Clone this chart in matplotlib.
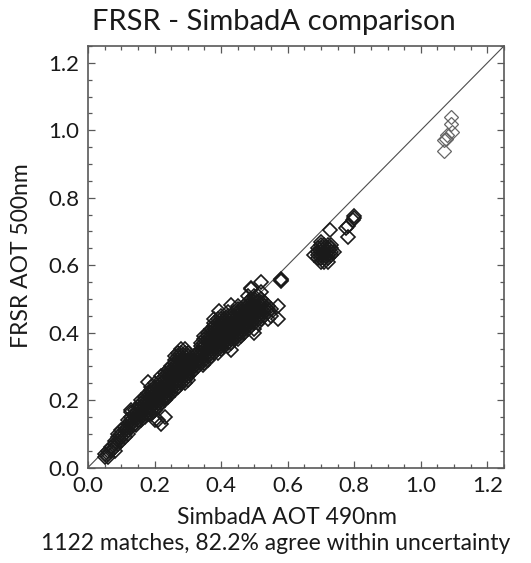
import numpy as np
import matplotlib.pyplot as plt
from matplotlib.ticker import MultipleLocator

plt.rcParams['font.family'] = ['Lato', 'DejaVu Sans']

# SimbadA AOT 490nm (x) vs FRSR AOT 500nm (y)
# main band: one x per column, the y values seen in that column
low_x = [0.05, 0.06, 0.07, 0.08, 0.09, 0.10, 0.11, 0.12, 0.13, 0.14, 0.15, 0.16]
low_y = [[0.03, 0.04],
         [0.03, 0.04, 0.05],
         [0.05, 0.06],
         [0.05, 0.06, 0.07, 0.08],
         [0.07, 0.08, 0.09, 0.10],
         [0.08, 0.09, 0.10, 0.11],
         [0.09, 0.10, 0.11, 0.12],
         [0.10, 0.11, 0.12, 0.13, 0.14],
         [0.12, 0.13, 0.14, 0.15, 0.17],
         [0.13, 0.14, 0.15, 0.16, 0.17],
         [0.14, 0.15, 0.16, 0.17, 0.18],
         [0.14, 0.15, 0.16, 0.17, 0.18, 0.19, 0.20]]

mid_x = [0.17, 0.18, 0.19, 0.20, 0.21, 0.22, 0.23, 0.24, 0.25, 0.26, 0.27, 0.28,
         0.29, 0.30, 0.31, 0.32, 0.33]
mid_y = [[0.15, 0.16, 0.17, 0.18, 0.19, 0.20, 0.21],
         [0.16, 0.17, 0.18, 0.19, 0.20, 0.21, 0.22],
         [0.16, 0.17, 0.18, 0.19, 0.20, 0.21, 0.22, 0.23, 0.24],
         [0.14, 0.17, 0.18, 0.19, 0.20, 0.21, 0.22, 0.23, 0.24, 0.25],
         [0.14, 0.18, 0.19, 0.20, 0.21, 0.22, 0.23, 0.24],
         [0.13, 0.19, 0.20, 0.21, 0.22, 0.23, 0.24, 0.25, 0.26, 0.27],
         [0.15, 0.20, 0.21, 0.22, 0.23, 0.24, 0.25, 0.26, 0.27, 0.28],
         [0.21, 0.22, 0.23, 0.24, 0.25, 0.26, 0.27, 0.28, 0.29],
         [0.22, 0.23, 0.24, 0.25, 0.26, 0.27, 0.28, 0.29, 0.30],
         [0.23, 0.24, 0.25, 0.26, 0.27, 0.28, 0.29, 0.30, 0.31, 0.32, 0.33],
         [0.24, 0.25, 0.26, 0.27, 0.28, 0.29, 0.30, 0.31, 0.32, 0.33, 0.34],
         [0.25, 0.26, 0.27, 0.28, 0.29, 0.30, 0.31, 0.32, 0.33, 0.34, 0.35],
         [0.25, 0.26, 0.27, 0.28, 0.29, 0.30, 0.31, 0.32, 0.33, 0.34, 0.35],
         [0.26, 0.27, 0.28, 0.29, 0.30, 0.31, 0.32, 0.33, 0.34],
         [0.28, 0.29, 0.30, 0.31, 0.32],
         [0.29, 0.30, 0.31, 0.32, 0.33],
         [0.30, 0.31, 0.32, 0.33, 0.34]]

high_x = [0.34, 0.35, 0.36, 0.37, 0.38, 0.39, 0.40, 0.41, 0.42, 0.43, 0.44, 0.45,
          0.46, 0.47, 0.48, 0.49, 0.50, 0.51, 0.52, 0.53, 0.54, 0.55, 0.57, 0.58]
high_y = [[0.31, 0.32, 0.33, 0.34, 0.35, 0.36, 0.37],
          [0.31, 0.32, 0.33, 0.34, 0.35, 0.36, 0.37, 0.38, 0.39],
          [0.32, 0.33, 0.34, 0.35, 0.36, 0.37, 0.38, 0.39, 0.40],
          [0.33, 0.34, 0.35, 0.36, 0.37, 0.38, 0.39, 0.40, 0.41],
          [0.34, 0.35, 0.36, 0.37, 0.38, 0.39, 0.40, 0.41, 0.42, 0.43, 0.44],
          [0.34, 0.35, 0.36, 0.37, 0.38, 0.39, 0.40, 0.41, 0.42, 0.43, 0.44],
          [0.35, 0.36, 0.37, 0.38, 0.39, 0.40, 0.41, 0.42, 0.43, 0.44, 0.45],
          [0.36, 0.37, 0.38, 0.39, 0.40, 0.41, 0.42, 0.43, 0.44],
          [0.36, 0.37, 0.38, 0.39, 0.40, 0.41, 0.42, 0.43, 0.44, 0.45, 0.46],
          [0.37, 0.38, 0.39, 0.40, 0.41, 0.42, 0.43, 0.44, 0.45],
          [0.38, 0.39, 0.40, 0.41, 0.42, 0.43, 0.44, 0.45, 0.46],
          [0.38, 0.39, 0.40, 0.41, 0.42, 0.43, 0.44, 0.45, 0.46, 0.47, 0.48],
          [0.39, 0.40, 0.41, 0.42, 0.43, 0.44, 0.45, 0.46, 0.47],
          [0.40, 0.41, 0.42, 0.43, 0.44, 0.45, 0.46, 0.47, 0.48],
          [0.41, 0.42, 0.43, 0.44, 0.45, 0.46, 0.47, 0.48, 0.49, 0.51],
          [0.42, 0.43, 0.44, 0.45, 0.46, 0.47, 0.48, 0.49, 0.50, 0.53],
          [0.41, 0.43, 0.44, 0.45, 0.46, 0.47, 0.48, 0.49, 0.50, 0.51],
          [0.43, 0.44, 0.45, 0.46, 0.47, 0.48, 0.49, 0.51],
          [0.44, 0.45, 0.46, 0.47, 0.48, 0.49, 0.50, 0.52, 0.55],
          [0.45, 0.46, 0.47, 0.48, 0.49],
          [0.44, 0.46, 0.47, 0.48],
          [0.45, 0.47],
          [0.44, 0.48],
          [0.552, 0.555, 0.558]]

# scattered points just off the band
out_x = [0.18, 0.23, 0.195, 0.13, 0.145, 0.395, 0.43, 0.50, 0.43, 0.345, 0.49]
out_y = [0.254, 0.206, 0.166, 0.166, 0.126, 0.463, 0.482, 0.40, 0.349, 0.305, 0.533]

# separate clusters further up
c07_x = [0.69, 0.70, 0.71, 0.72, 0.70, 0.71, 0.72, 0.73, 0.69, 0.71, 0.70, 0.72, 0.73,
         0.70, 0.68, 0.71, 0.72, 0.70, 0.69, 0.73, 0.71, 0.74, 0.70, 0.72, 0.71, 0.72,
         0.70, 0.73, 0.69, 0.71]
c07_y = [0.62, 0.63, 0.64, 0.65, 0.65, 0.62, 0.63, 0.64, 0.64, 0.66, 0.61, 0.61, 0.66,
         0.67, 0.63, 0.63, 0.64, 0.64, 0.63, 0.65, 0.65, 0.64, 0.62, 0.66, 0.64, 0.62,
         0.66, 0.63, 0.65, 0.61]
c08_x = [0.80, 0.795, 0.80, 0.78, 0.775, 0.78, 0.727]
c08_y = [0.74, 0.735, 0.745, 0.715, 0.71, 0.685, 0.705]
c11_x = [1.09, 1.09, 1.095, 1.075, 1.07, 1.08, 1.07]
c11_y = [1.04, 1.02, 0.995, 0.975, 0.97, 0.985, 0.94]


def expand(xs, ys):
    px, py = [], []
    for x, col in zip(xs, ys):
        for y in col:
            px.append(x)
            py.append(y)
    return px, py


x_all, y_all = [], []
for xs, ys in [(low_x, low_y), (mid_x, mid_y), (high_x, high_y)]:
    px, py = expand(xs, ys)
    x_all += px
    y_all += py
x_all += out_x + c07_x + c08_x
y_all += out_y + c07_y + c08_y

fig = plt.figure(figsize=(5.31, 5.63), dpi=100)
ax = fig.add_axes([88 / 531, 1 - 467.5 / 563, 416 / 531, 421.5 / 563])

ax.plot([0, 1.25], [0, 1.25], color='0.3', lw=0.8)
ax.plot(x_all, y_all, linestyle='none', marker='D', ms=7, mfc='none',
        mec='0.1', mew=1.2)
# the top cluster is drawn fainter in the original
ax.plot(c11_x, c11_y, linestyle='none', marker='D', ms=7, mfc='none',
        mec='0.4', mew=0.9)

ax.set_xlim(0, 1.25)
ax.set_ylim(0, 1.25)
for a in (ax.xaxis, ax.yaxis):
    a.set_major_locator(MultipleLocator(0.2))
    a.set_minor_locator(MultipleLocator(0.05))
ax.xaxis.set_major_formatter(lambda v, p: '%.1f' % v)
ax.yaxis.set_major_formatter(lambda v, p: '%.1f' % v)
ax.tick_params(which='both', direction='in', top=True, right=True, colors='0.35',
               labelcolor='0.1', labelsize=16, width=0.9)
ax.tick_params(which='major', length=5, pad=6)
ax.tick_params(which='minor', length=3)
for s in ax.spines.values():
    s.set_color('0.35')
    s.set_linewidth(1.2)

fig.text(274 / 531, 1 - 22 / 563, 'FRSR - SimbadA comparison', ha='center', va='center',
         fontsize=21, color='0.1')
fig.text(287 / 531, 1 - 518 / 563, 'SimbadA AOT 490nm', ha='center', va='center',
         fontsize=16.5, color='0.1')
fig.text(276 / 531, 1 - 543 / 563, '1122 matches, 82.2% agree within uncertainty',
         ha='center', va='center', fontsize=16.5, color='0.1')
fig.text(22 / 531, 1 - 256 / 563, 'FRSR AOT 500nm', ha='center', va='center',
         rotation=90, fontsize=16.5, color='0.1')

fig.savefig('out.png', dpi=100)
